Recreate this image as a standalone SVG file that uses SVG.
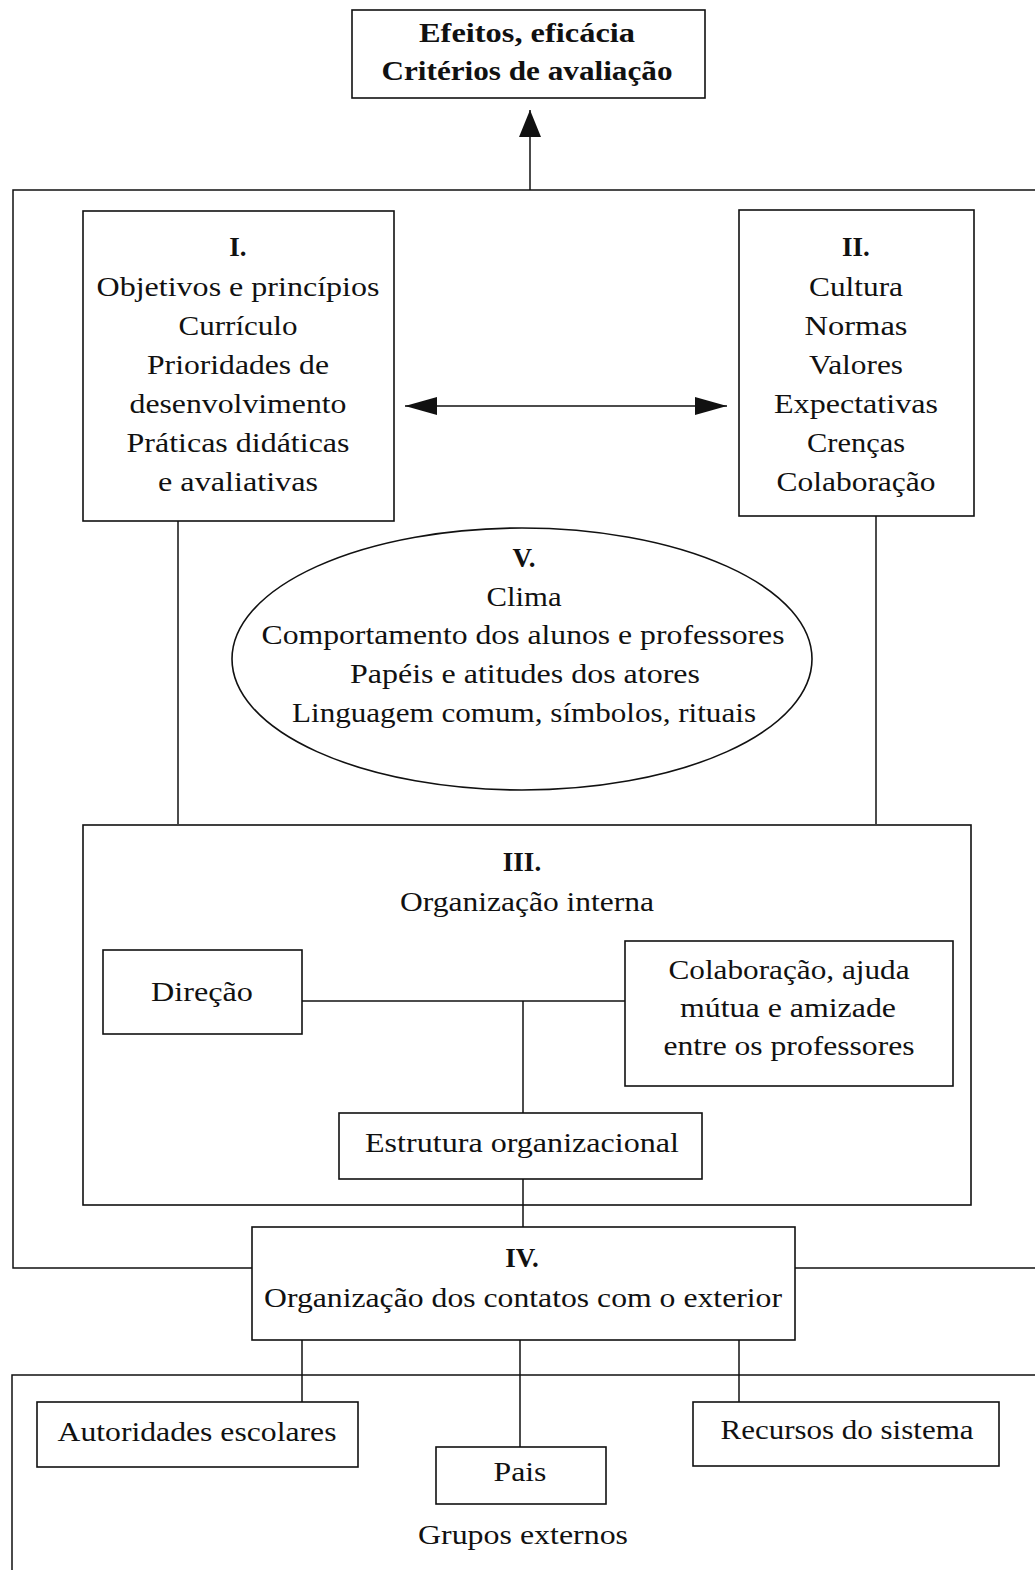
<svg xmlns="http://www.w3.org/2000/svg" width="1035" height="1570" viewBox="0 0 1035 1570">
<style>
text{font-family:"Liberation Serif","DejaVu Serif",serif;font-size:27px;fill:#111;text-anchor:middle}
.b{font-weight:bold}
.box{fill:#fff;stroke:#111;stroke-width:1.6}
.ln{fill:none;stroke:#111;stroke-width:1.5}
</style>
<defs>
<marker id="ahUp" markerUnits="userSpaceOnUse" markerWidth="28" markerHeight="24" refX="27" refY="11" orient="auto"><path d="M0,0 L27,11 L0,22 z" fill="#111"/></marker>
<marker id="ahH" markerUnits="userSpaceOnUse" markerWidth="34" markerHeight="20" refX="32" refY="9" orient="auto-start-reverse"><path d="M0,0 L32,9 L0,18 z" fill="#111"/></marker>
</defs>
<rect width="1035" height="1570" fill="#fff"/>
<g id="frames">
<path class="ln" d="M1035,190 H13 V1268 H252"/>
<path class="ln" d="M794,1268 H1035"/>
<path class="ln" d="M1035,1375 H12 V1570"/>
</g>
<g id="connectors">
<line class="ln" x1="530" y1="190" x2="530" y2="110" marker-end="url(#ahUp)"/>
<line class="ln" x1="405" y1="406" x2="727" y2="406" stroke-width="1" marker-start="url(#ahH)" marker-end="url(#ahH)"/>
<line class="ln" x1="178" y1="521" x2="178" y2="824"/>
<line class="ln" x1="876" y1="516" x2="876" y2="824"/>
<path class="ln" d="M302,1001 H625"/>
<line class="ln" x1="523" y1="1001" x2="523" y2="1113"/>
<line class="ln" x1="523" y1="1179" x2="523" y2="1227"/>
<line class="ln" x1="302" y1="1340" x2="302" y2="1402"/>
<line class="ln" x1="520" y1="1340" x2="520" y2="1447"/>
<line class="ln" x1="739" y1="1340" x2="739" y2="1402"/>
</g>
<g id="efeitos">
<rect class="box" x="352" y="10" width="353" height="88"/>
<text class="b" x="527" y="42" textLength="216" lengthAdjust="spacingAndGlyphs">Efeitos, eficácia</text>
<text class="b" x="527" y="80" textLength="291" lengthAdjust="spacingAndGlyphs">Critérios de avaliação</text>
</g>
<g id="node-I">
<rect class="box" x="83" y="211" width="311" height="310"/>
<text class="b" x="238" y="256">I.</text>
<text x="238" y="296" textLength="283" lengthAdjust="spacingAndGlyphs">Objetivos e princípios</text>
<text x="238" y="335" textLength="119" lengthAdjust="spacingAndGlyphs">Currículo</text>
<text x="238" y="374" textLength="182" lengthAdjust="spacingAndGlyphs">Prioridades de</text>
<text x="238" y="413" textLength="217" lengthAdjust="spacingAndGlyphs">desenvolvimento</text>
<text x="238" y="452" textLength="223" lengthAdjust="spacingAndGlyphs">Práticas didáticas</text>
<text x="238" y="491" textLength="160" lengthAdjust="spacingAndGlyphs">e avaliativas</text>
</g>
<g id="node-II">
<rect class="box" x="739" y="210" width="235" height="306"/>
<text class="b" x="856" y="256">II.</text>
<text x="856" y="296" textLength="94" lengthAdjust="spacingAndGlyphs">Cultura</text>
<text x="856" y="335" textLength="103" lengthAdjust="spacingAndGlyphs">Normas</text>
<text x="856" y="374" textLength="94" lengthAdjust="spacingAndGlyphs">Valores</text>
<text x="856" y="413" textLength="164" lengthAdjust="spacingAndGlyphs">Expectativas</text>
<text x="856" y="452" textLength="98" lengthAdjust="spacingAndGlyphs">Crenças</text>
<text x="856" y="491" textLength="159" lengthAdjust="spacingAndGlyphs">Colaboração</text>
</g>
<g id="node-V">
<ellipse class="box" cx="522" cy="659" rx="290" ry="131"/>
<text class="b" x="524" y="567">V.</text>
<text x="524" y="606" textLength="75" lengthAdjust="spacingAndGlyphs">Clima</text>
<text x="523" y="644" textLength="523" lengthAdjust="spacingAndGlyphs">Comportamento dos alunos e professores</text>
<text x="525" y="683" textLength="350" lengthAdjust="spacingAndGlyphs">Papéis e atitudes dos atores</text>
<text x="524" y="722" textLength="464" lengthAdjust="spacingAndGlyphs">Linguagem comum, símbolos, rituais</text>
</g>
<g id="node-III">
<rect class="box" x="83" y="825" width="888" height="380" style="fill:none"/>
<text class="b" x="522" y="871">III.</text>
<text x="527" y="911" textLength="254" lengthAdjust="spacingAndGlyphs">Organização interna</text>
</g>
<g id="direcao">
<rect class="box" x="103" y="950" width="199" height="84"/>
<text x="202" y="1001" textLength="102" lengthAdjust="spacingAndGlyphs">Direção</text>
</g>
<g id="colaboracao">
<rect class="box" x="625" y="941" width="328" height="145"/>
<text x="789" y="979" textLength="241" lengthAdjust="spacingAndGlyphs">Colaboração, ajuda</text>
<text x="788" y="1017" textLength="216" lengthAdjust="spacingAndGlyphs">mútua e amizade</text>
<text x="789" y="1055" textLength="251" lengthAdjust="spacingAndGlyphs">entre os professores</text>
</g>
<g id="estrutura">
<rect class="box" x="339" y="1113" width="363" height="66"/>
<text x="522" y="1152" textLength="314" lengthAdjust="spacingAndGlyphs">Estrutura organizacional</text>
</g>
<g id="node-IV">
<rect class="box" x="252" y="1227" width="543" height="113"/>
<text class="b" x="522" y="1267">IV.</text>
<text x="523" y="1307" textLength="518" lengthAdjust="spacingAndGlyphs">Organização dos contatos com o exterior</text>
</g>
<g id="autoridades">
<rect class="box" x="37" y="1402" width="321" height="65"/>
<text x="197" y="1441" textLength="279" lengthAdjust="spacingAndGlyphs">Autoridades escolares</text>
</g>
<g id="pais">
<rect class="box" x="436" y="1447" width="170" height="57"/>
<text x="520" y="1481" textLength="53" lengthAdjust="spacingAndGlyphs">Pais</text>
</g>
<g id="recursos">
<rect class="box" x="693" y="1402" width="306" height="64"/>
<text x="847" y="1439" textLength="253" lengthAdjust="spacingAndGlyphs">Recursos do sistema</text>
</g>
<g id="grupos">
<text x="523" y="1544" textLength="210" lengthAdjust="spacingAndGlyphs">Grupos externos</text>
</g>
</svg>
